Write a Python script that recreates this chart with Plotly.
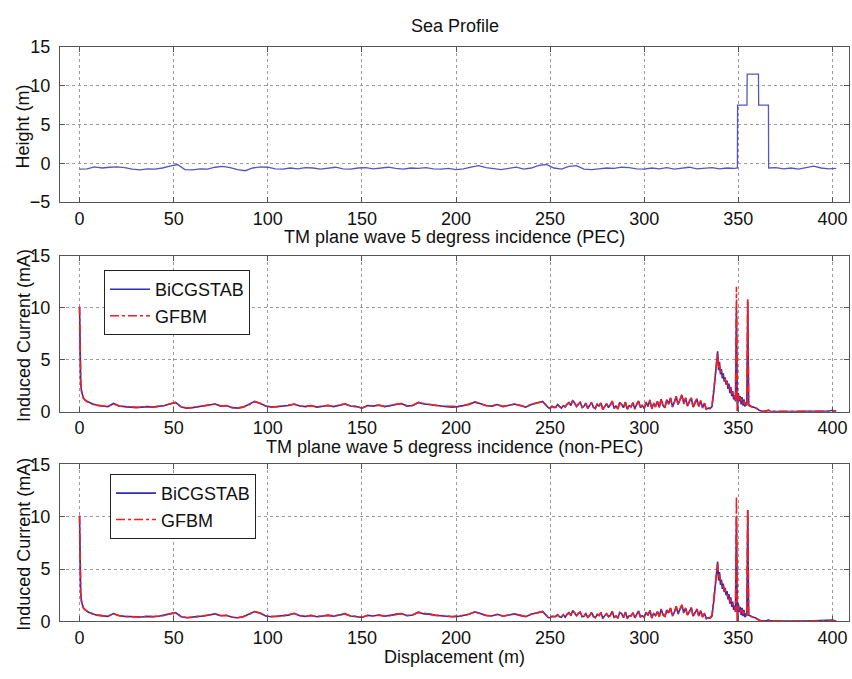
import plotly.graph_objects as go

# ---------------- data ----------------
sea_x = [0, 4, 8, 12, 16, 20, 24, 28, 32, 36, 40, 44, 48, 52, 56, 60, 64, 68, 72, 76,
         80, 84, 88, 92, 96, 100, 104, 108, 112, 116, 120, 124, 128, 132, 136, 140, 144, 148, 152, 156,
         160, 164, 168, 172, 176, 180, 184, 188, 192, 196, 200, 204, 208, 212, 216, 220, 224, 228, 232, 236,
         240, 244, 248, 252, 256, 260, 264, 268, 272, 276, 280, 284, 288, 292, 296, 300, 304, 308, 312, 316,
         320, 324, 328, 332, 336, 340, 344, 348,
         349.5, 349.6, 354.6, 354.7, 360.7, 360.8, 366, 366.1,
         370, 374, 378, 382, 386, 390, 394, 398, 402]
sea_h = [-0.75, -0.7, -0.45, -0.6, -0.5, -0.45, -0.55, -0.75, -0.85, -0.7, -0.75, -0.6, -0.35, -0.15, -0.8, -0.85, -0.7, -0.75, -0.5, -0.4,
         -0.55, -0.8, -0.95, -0.6, -0.45, -0.5, -0.7, -0.75, -0.6, -0.7, -0.55, -0.6, -0.75, -0.6, -0.5, -0.7, -0.75, -0.6, -0.55, -0.7,
         -0.6, -0.5, -0.65, -0.75, -0.6, -0.65, -0.55, -0.7, -0.75, -0.65, -0.8, -0.7, -0.5, -0.3, -0.55, -0.7, -0.8, -0.65, -0.5, -0.75,
         -0.6, -0.25, -0.15, -0.6, -0.75, -0.4, -0.3, -0.75, -0.8, -0.7, -0.6, -0.65, -0.5, -0.55, -0.7, -0.75, -0.6, -0.7, -0.55, -0.75,
         -0.6, -0.5, -0.7, -0.65, -0.55, -0.7, -0.6, -0.65,
         -0.6, 7.5, 7.5, 11.5, 11.5, 7.5, 7.5, -0.6,
         -0.55, -0.7, -0.6, -0.75, -0.5, -0.35, -0.6, -0.7, -0.65]

disp = [0, 0.3, 0.6, 1, 1.5, 2, 3, 4, 5, 6, 7, 8, 9, 10,
        12, 15, 18, 21, 24, 27, 30, 33, 36, 39, 42, 45, 48, 51, 54, 57, 60, 63, 66, 69,
        72, 75, 78, 81, 84, 87, 90, 93, 96, 99, 102, 105, 108, 111, 114, 117, 120, 123, 126, 129,
        132, 135, 138, 141, 144, 147, 150, 153, 156, 159, 162, 165, 168, 171, 174, 177, 180, 183, 186, 189,
        192, 195, 198, 201, 204, 207, 210, 213, 216, 219, 222, 225, 228, 231, 234, 237, 240, 243, 246, 249,
        250, 251, 252, 253, 254, 255, 256, 257, 258, 259, 260, 261, 262, 263, 264, 265, 266, 267, 268, 269,
        270, 271, 272, 273, 274, 275, 276, 277, 278, 279, 280, 281, 282, 283, 284, 285, 286, 287, 288, 289,
        290, 291, 292, 293, 294, 295, 296, 297, 298, 299, 300, 301, 302, 303, 304, 305, 306, 307, 308, 309,
        310, 311, 312, 313, 314, 315, 316, 317, 318, 319, 320, 321, 322, 323, 324, 325, 326, 327, 328, 329,
        330, 331, 332, 333, 334,
        335, 336, 337, 338,
        338.5, 339, 339.5, 340, 340.5, 341, 341.5, 342, 342.5, 343,
        343.5, 344, 344.5, 345, 345.5, 346, 346.5, 347, 347.5, 348,
        348.5, 349, 349.5, 350, 350.5, 351, 351.5, 352, 352.5, 353,
        353.5, 354, 354.5,
        355, 355.5,
        356, 357, 358, 359, 360, 361, 362, 363,
        365, 366, 367, 370, 375, 380, 385, 390, 395, 398, 400, 402]

bicg_pec = [10.0, 4.5, 2.8, 2.0, 1.6, 1.35, 1.1, 1.0, 0.9, 0.8, 0.75, 0.7, 0.62, 0.6,
            0.55, 0.5, 0.8, 0.55, 0.5, 0.45, 0.4, 0.45, 0.5, 0.45,
            0.5, 0.6, 0.75, 0.9, 0.45, 0.35, 0.4, 0.5, 0.55, 0.65,
            0.75, 0.55, 0.6, 0.4, 0.35, 0.45, 0.7, 1.0, 0.8, 0.55,
            0.45, 0.5, 0.55, 0.6, 0.75, 0.55, 0.5, 0.6, 0.45, 0.55,
            0.6, 0.5, 0.65, 0.75, 0.55, 0.5, 0.35, 0.6, 0.55, 0.65,
            0.5, 0.6, 0.7, 0.8, 0.55, 0.6, 0.9, 0.75, 0.7, 0.6,
            0.55, 0.5, 0.45, 0.5, 0.6, 0.7, 0.95, 0.75, 0.6, 0.55,
            0.7, 0.5, 0.6, 0.75, 0.6, 0.45, 0.7, 0.85, 1.0, 0.4,
            0.3, 0.55, 0.4, 0.45, 0.7, 0.5, 0.35, 0.6, 0.45, 0.75,
            0.9, 0.6, 1.1, 0.85, 0.5, 0.7, 0.95, 0.4, 0.55, 0.8,
            0.35, 0.6, 0.9, 0.45, 0.3, 0.7, 0.55, 0.85, 0.25, 0.5,
            0.8, 0.4, 0.65, 1.0, 0.35, 0.55, 0.3, 0.9, 0.7, 0.4,
            0.95, 0.25, 0.6, 0.5, 0.85, 0.3, 0.7, 1.05, 0.4, 0.6,
            0.35, 0.9, 0.55, 1.1, 0.3, 0.8, 0.5, 1.0, 0.45, 1.2,
            0.6, 0.4, 1.15, 0.75, 1.3, 0.5, 0.9, 1.45, 0.7, 1.2,
            1.6, 0.8, 1.3, 0.55, 1.0, 1.35, 0.45, 0.9, 1.2, 0.5,
            1.05, 0.4, 0.8, 0.25, 0.35,
            0.3, 0.5, 2.0, 4.2,
            4.6, 5.8, 4.0, 4.8, 3.6, 4.1, 3.2, 3.7, 2.9, 3.3,
            2.6, 3.0, 2.2, 2.7, 1.8, 2.4, 1.5, 2.0, 1.2, 1.6,
            1.0, 10.0, 0.05, 1.8, 1.0, 1.5, 0.7, 1.4, 0.6, 1.2,
            0.5, 0.9, 0.6,
            10.6, 0.7,
            0.6, 0.5, 0.45, 0.4, 0.3, 0.15, 0.05, 0.03,
            0.05, 0.15, 0.05, 0.03, 0.02, 0.03, 0.05, 0.08, 0.1, 0.06, 0.15, 0.05]

gfbm_pec = [10.1, 4.4, 2.9, 2.0, 1.55, 1.3, 1.15, 0.95, 0.9, 0.85, 0.7, 0.72, 0.6, 0.62,
            0.57, 0.52, 0.78, 0.56, 0.48, 0.46, 0.42, 0.44, 0.52, 0.46,
            0.52, 0.58, 0.77, 0.88, 0.47, 0.37, 0.41, 0.49, 0.57, 0.63,
            0.74, 0.57, 0.58, 0.42, 0.36, 0.47, 0.68, 0.98, 0.82, 0.53,
            0.47, 0.49, 0.57, 0.62, 0.73, 0.56, 0.52, 0.58, 0.47, 0.54,
            0.62, 0.52, 0.63, 0.77, 0.54, 0.52, 0.37, 0.58, 0.57, 0.63,
            0.52, 0.58, 0.72, 0.78, 0.57, 0.62, 0.88, 0.77, 0.68, 0.62,
            0.53, 0.52, 0.47, 0.52, 0.58, 0.72, 0.93, 0.77, 0.58, 0.57,
            0.68, 0.52, 0.62, 0.73, 0.62, 0.47, 0.72, 0.83, 0.98, 0.42,
            0.35, 0.5, 0.45, 0.4, 0.65, 0.55, 0.4, 0.55, 0.5, 0.7,
            0.85, 0.65, 1.05, 0.8, 0.55, 0.75, 0.9, 0.45, 0.5, 0.85,
            0.3, 0.65, 0.85, 0.4, 0.35, 0.75, 0.5, 0.9, 0.2, 0.55,
            0.75, 0.45, 0.6, 1.05, 0.3, 0.6, 0.25, 0.95, 0.65, 0.45,
            0.9, 0.2, 0.65, 0.45, 0.9, 0.25, 0.75, 1.0, 0.35, 0.65,
            0.3, 0.95, 0.5, 1.15, 0.25, 0.85, 0.45, 1.05, 0.4, 1.25,
            0.55, 0.45, 1.2, 0.7, 1.35, 0.45, 0.95, 1.5, 0.65, 1.25,
            1.65, 0.75, 1.35, 0.5, 1.05, 1.3, 0.4, 0.95, 1.25, 0.45,
            1.1, 0.35, 0.85, 0.2, 0.4,
            0.35, 0.6, 2.2, 4.0,
            4.5, 5.6, 4.2, 4.6, 3.8, 3.9, 3.4, 3.5, 3.1, 3.1,
            2.8, 2.8, 2.4, 2.5, 2.0, 2.2, 1.7, 1.8, 1.4, 1.5,
            1.1, 12.0, 0.1, 1.6, 1.2, 1.3, 0.9, 1.2, 0.8, 1.0,
            0.7, 0.8, 0.7,
            10.8, 0.6,
            0.55, 0.5, 0.4, 0.4, 0.3, 0.12, 0.06, 0.04,
            0.06, 0.13, 0.06, 0.04, 0.03, 0.04, 0.06, 0.07, 0.09, 0.07, 0.12, 0.06]

bicg_npec = [10.0, 4.3, 2.7, 1.9, 1.55, 1.3, 1.1, 0.95, 0.85, 0.8, 0.72, 0.68, 0.6, 0.58,
             0.52, 0.48, 0.75, 0.55, 0.48, 0.45, 0.4, 0.42, 0.48, 0.45,
             0.5, 0.58, 0.72, 0.85, 0.45, 0.35, 0.38, 0.48, 0.52, 0.62,
             0.72, 0.55, 0.58, 0.4, 0.35, 0.45, 0.68, 0.95, 0.78, 0.52,
             0.45, 0.48, 0.52, 0.6, 0.78, 0.55, 0.48, 0.58, 0.45, 0.52,
             0.58, 0.5, 0.62, 0.72, 0.52, 0.48, 0.38, 0.58, 0.52, 0.62,
             0.5, 0.58, 0.68, 0.75, 0.55, 0.62, 0.88, 0.72, 0.7, 0.58,
             0.55, 0.5, 0.45, 0.48, 0.58, 0.68, 0.92, 0.72, 0.58, 0.52,
             0.68, 0.5, 0.58, 0.72, 0.58, 0.45, 0.68, 0.82, 0.95, 0.38,
             0.35, 0.5, 0.45, 0.5, 0.65, 0.45, 0.4, 0.65, 0.4, 0.7,
             0.85, 0.55, 1.05, 0.8, 0.55, 0.75, 0.9, 0.45, 0.5, 0.75,
             0.4, 0.55, 0.85, 0.5, 0.35, 0.65, 0.6, 0.8, 0.3, 0.55,
             0.75, 0.45, 0.6, 0.95, 0.4, 0.5, 0.35, 0.85, 0.75, 0.35,
             0.9, 0.3, 0.55, 0.55, 0.8, 0.35, 0.65, 1.0, 0.45, 0.55,
             0.4, 0.85, 0.6, 1.05, 0.35, 0.75, 0.55, 0.95, 0.5, 1.15,
             0.65, 0.45, 1.1, 0.8, 1.25, 0.55, 0.85, 1.4, 0.75, 1.15,
             1.55, 0.85, 1.25, 0.6, 0.95, 1.3, 0.5, 0.85, 1.15, 0.55,
             1.0, 0.45, 0.75, 0.3, 0.35,
             0.3, 0.5, 2.0, 4.0,
             4.4, 5.7, 3.9, 4.7, 3.5, 4.0, 3.1, 3.6, 2.8, 3.2,
             2.5, 2.9, 2.1, 2.6, 1.7, 2.3, 1.4, 1.9, 1.1, 1.5,
             0.9, 10.0, 0.05, 1.7, 0.9, 1.4, 0.6, 1.3, 0.5, 1.1,
             0.4, 0.8, 0.5,
             10.6, 0.6,
             0.55, 0.45, 0.4, 0.35, 0.25, 0.12, 0.05, 0.03,
             0.05, 0.14, 0.05, 0.03, 0.02, 0.03, 0.04, 0.07, 0.09, 0.05, 0.13, 0.05]

gfbm_npec = [10.1, 4.2, 2.8, 1.95, 1.5, 1.3, 1.1, 0.95, 0.88, 0.78, 0.7, 0.7, 0.6, 0.6,
             0.54, 0.5, 0.73, 0.56, 0.47, 0.46, 0.42, 0.41, 0.5, 0.46,
             0.52, 0.56, 0.74, 0.83, 0.47, 0.37, 0.39, 0.47, 0.54, 0.6,
             0.71, 0.57, 0.56, 0.42, 0.36, 0.47, 0.66, 0.93, 0.8, 0.5,
             0.47, 0.47, 0.54, 0.62, 0.76, 0.56, 0.5, 0.56, 0.47, 0.51,
             0.6, 0.52, 0.6, 0.74, 0.51, 0.5, 0.4, 0.56, 0.54, 0.6,
             0.52, 0.56, 0.7, 0.73, 0.57, 0.64, 0.86, 0.74, 0.68, 0.6,
             0.53, 0.52, 0.47, 0.5, 0.56, 0.7, 0.9, 0.74, 0.56, 0.54,
             0.66, 0.52, 0.6, 0.7, 0.6, 0.47, 0.7, 0.8, 0.93, 0.4,
             0.4, 0.45, 0.5, 0.45, 0.6, 0.5, 0.45, 0.6, 0.45, 0.65,
             0.8, 0.6, 1.0, 0.85, 0.5, 0.8, 0.85, 0.5, 0.45, 0.8,
             0.35, 0.6, 0.8, 0.45, 0.4, 0.7, 0.55, 0.85, 0.25, 0.6,
             0.7, 0.5, 0.55, 1.0, 0.35, 0.55, 0.3, 0.9, 0.7, 0.4,
             0.85, 0.25, 0.6, 0.5, 0.85, 0.3, 0.7, 0.95, 0.4, 0.6,
             0.35, 0.9, 0.55, 1.1, 0.3, 0.8, 0.5, 1.0, 0.45, 1.2,
             0.6, 0.5, 1.15, 0.75, 1.3, 0.5, 0.9, 1.45, 0.7, 1.2,
             1.6, 0.8, 1.3, 0.55, 1.0, 1.35, 0.45, 0.9, 1.2, 0.5,
             1.05, 0.4, 0.8, 0.25, 0.4,
             0.35, 0.6, 2.2, 3.9,
             4.4, 5.5, 4.1, 4.5, 3.7, 3.8, 3.3, 3.4, 3.0, 3.0,
             2.7, 2.7, 2.3, 2.4, 1.9, 2.1, 1.6, 1.7, 1.3, 1.4,
             1.0, 11.9, 0.1, 1.5, 1.1, 1.2, 0.8, 1.1, 0.7, 0.9,
             0.6, 0.7, 0.6,
             10.7, 0.55,
             0.5, 0.45, 0.4, 0.35, 0.25, 0.1, 0.06, 0.04,
             0.06, 0.12, 0.06, 0.04, 0.03, 0.04, 0.05, 0.07, 0.08, 0.06, 0.11, 0.06]

x_ticks = [0, 50, 100, 150, 200, 250, 300, 350, 400]
height_ticks = [-5, 0, 5, 10, 15]
current_ticks = [0, 5, 10, 15]

for name, arr in [("bicg_pec", bicg_pec), ("gfbm_pec", gfbm_pec),
                  ("bicg_npec", bicg_npec), ("gfbm_npec", gfbm_npec)]:
    if len(arr) != len(disp):
        raise ValueError(f"{name}: {len(arr)} vs {len(disp)}")
if len(sea_x) != len(sea_h):
    raise ValueError("sea lengths")

# ---------------- styling ----------------
FONT = "Liberation Sans, Arial, Helvetica, sans-serif"
TXT = "#111111"
FS = 18
W, H = 852, 679
BLUE = "#2c2cb4"
RED = "#ff1a1a"

def px_x(p):
    return p / W

def px_y(p):
    return 1 - p / H

x_dom = [px_x(60), px_x(849)]
x_rng = [-10.4, 408.8]

ax_common = dict(showline=True, linecolor="#555555", linewidth=1, mirror="ticks",
                 ticks="inside", ticklen=5, tickcolor="#555555", tickwidth=1,
                 showgrid=True, gridcolor="#9a9a9a", griddash="dot", gridwidth=1,
                 zeroline=False, tickfont=dict(family=FONT, size=FS, color=TXT))

fig = go.Figure()
fig.add_trace(go.Scatter(x=sea_x, y=sea_h, mode="lines", showlegend=False,
                         line=dict(color="#5656c0", width=1.3), xaxis="x", yaxis="y"))
fig.add_trace(go.Scatter(x=disp, y=bicg_pec, mode="lines", name="BiCGSTAB",
                         line=dict(color=BLUE, width=1.6), xaxis="x2", yaxis="y2", legend="legend"))
fig.add_trace(go.Scatter(x=disp, y=gfbm_pec, mode="lines", name="GFBM",
                         line=dict(color=RED, width=1.6, dash="dashdot"), xaxis="x2", yaxis="y2", legend="legend"))
fig.add_trace(go.Scatter(x=disp, y=bicg_npec, mode="lines", name="BiCGSTAB",
                         line=dict(color=BLUE, width=1.6), xaxis="x3", yaxis="y3", legend="legend2"))
fig.add_trace(go.Scatter(x=disp, y=gfbm_npec, mode="lines", name="GFBM",
                         line=dict(color=RED, width=1.6, dash="dashdot"), xaxis="x3", yaxis="y3", legend="legend2"))

panels = [
    ("", "", (38, 198), [-5, 15], height_ticks),
    ("2", "2", (253, 414), [0, 15], current_ticks),
    ("3", "3", (468, 630), [0, 15], current_ticks),
]
layout_axes = {}
for xs, ys, (top, bot), yr, yt in panels:
    layout_axes["xaxis" + xs] = dict(ax_common, domain=x_dom, range=x_rng, tickvals=x_ticks,
                                     anchor="y" + ys, ticklabelstandoff=0)
    layout_axes["yaxis" + ys] = dict(ax_common, domain=[px_y(bot), px_y(top)], range=yr,
                                     tickvals=yt, anchor="x" + xs, ticklabelstandoff=5)

cx = (px_x(60) + px_x(849)) / 2
ann = [
    dict(text="Sea Profile", x=cx, y=px_y(17)),
    dict(text="TM plane wave 5 degress incidence (PEC)", x=cx, y=px_y(234)),
    dict(text="TM plane wave 5 degress incidence (non-PEC)", x=cx, y=px_y(450)),
    dict(text="Displacement (m)", x=cx, y=px_y(667)),
    dict(text="Height (m)", x=px_x(23), y=px_y(120), textangle=-90),
    dict(text="Induced Current (mA)", x=px_x(24), y=px_y(336), textangle=-90),
    dict(text="Induced Current (mA)", x=px_x(24), y=px_y(551), textangle=-90),
]
annotations = []
for a in ann:
    d = dict(xref="paper", yref="paper", showarrow=False, xanchor="center", yanchor="middle",
             font=dict(family=FONT, size=FS, color=TXT))
    d.update(a)
    annotations.append(d)

leg_common = dict(xanchor="left", yanchor="top", bgcolor="white", bordercolor="#222222",
                  borderwidth=1, font=dict(family=FONT, size=FS, color=TXT),
                  tracegroupgap=0, itemwidth=40)

fig.update_layout(
    width=W, height=H,
    margin=dict(l=0, r=0, t=0, b=0),
    paper_bgcolor="white", plot_bgcolor="white",
    font=dict(family=FONT, size=FS, color=TXT),
    annotations=annotations,
    legend=dict(leg_common, x=px_x(104), y=px_y(268)),
    legend2=dict(leg_common, x=px_x(110), y=px_y(478)),
    **layout_axes,
)

fig.write_html("out.html")
